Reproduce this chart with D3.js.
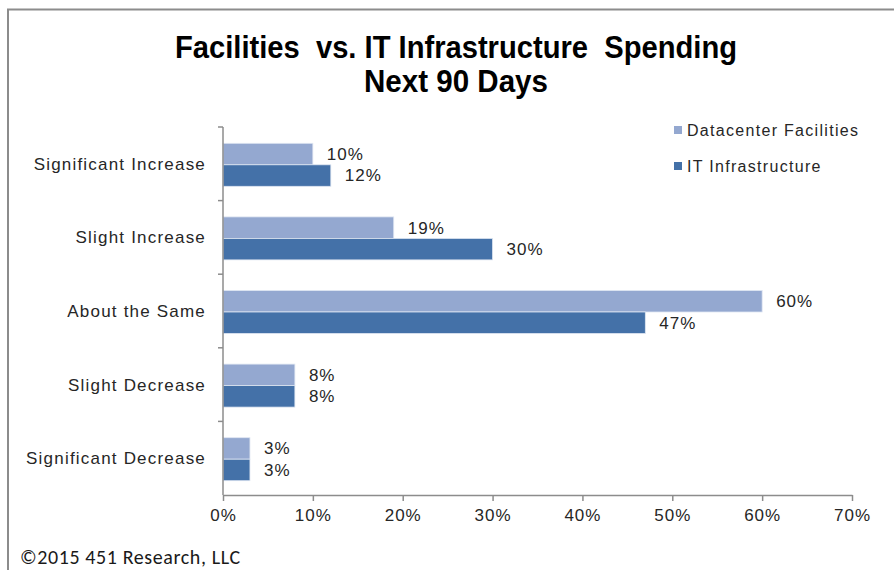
<!DOCTYPE html>
<html>
<head>
<meta charset="utf-8">
<script src="https://cdn.jsdelivr.net/npm/d3@7"></script>
<style>
    body { margin: 0; background: #fff; }
    text { font-family: "Liberation Sans", Arial, sans-serif; fill: #262626; }
    .title { font-weight: bold; font-size: 31px; fill: #000; white-space: pre; }
    .cat { font-size: 17px; letter-spacing: 1.2px; }
    .val { font-size: 17px; letter-spacing: 1px; }
    .axis text { font-size: 17px; letter-spacing: 1px; fill: #262626; }
    .axis path, .axis line { stroke: #8c8c8c; stroke-width: 1.5; }
    .legend text { font-size: 16px; letter-spacing: 1.3px; }
    .copy { font-family: Carlito, "Noto Sans", sans-serif; font-size: 20px; letter-spacing: 0.6px; fill: #1a1a1a; }
</style>
</head>
<body>
<svg width="894" height="570"></svg>
<script>
// Chart data
var categories = ['Significant Increase', 'Slight Increase', 'About the Same', 'Slight Decrease', 'Significant Decrease'];
var seriesNames = ['Datacenter Facilities', 'IT Infrastructure'];
var facilities = [10, 19, 60, 8, 3];
var infrastructure = [12, 30, 47, 8, 3];
var xTicks = [0, 10, 20, 30, 40, 50, 60, 70];
var colors = ['#94a8d0', '#4471a8'];

var svg = d3.select('svg');

var padding = {t: 127, r: 42, b: 75, l: 223};
var svgWidth = +svg.attr('width');
var svgHeight = +svg.attr('height');
var chartWidth = svgWidth - padding.l - padding.r;
var chartHeight = svgHeight - padding.t - padding.b;

// frame: top and left edge only
svg.append('path')
    .attr('d', 'M8,570 V9.5 H894')
    .attr('fill', 'none')
    .attr('stroke', '#8c8c8c')
    .attr('stroke-width', 2);

// title is a condensed face in the original, so squeeze it to the measured width
svg.append('text')
    .attr('class', 'title')
    .attr('text-anchor', 'middle')
    .attr('x', 456).attr('y', 58)
    .attr('textLength', 562)
    .attr('lengthAdjust', 'spacingAndGlyphs')
    .text('Facilities  vs. IT Infrastructure  Spending');
svg.append('text')
    .attr('class', 'title')
    .attr('text-anchor', 'middle')
    .attr('x', 456).attr('y', 92)
    .attr('textLength', 184)
    .attr('lengthAdjust', 'spacingAndGlyphs')
    .text('Next 90 Days');

var xScale = d3.scaleLinear()
    .domain([0, 70])
    .range([0, chartWidth]);

var yScale = d3.scaleBand()
    .domain(categories)
    .range([0, chartHeight]);

var barH = 21.5;

var chartG = svg.append('g')
    .attr('transform', 'translate(' + [padding.l, padding.t] + ')');

// rows of data: one per category
var rows = categories.map(function(c, i) {
    return {cat: c, values: [facilities[i], infrastructure[i]]};
});

var groups = chartG.selectAll('.row')
    .data(rows)
    .enter()
    .append('g')
    .attr('class', 'row')
    .attr('transform', function(d) {
        return 'translate(' + [0, yScale(d.cat) + yScale.bandwidth() / 2 - barH + 1] + ')';
    });

groups.selectAll('rect')
    .data(function(d) { return d.values; })
    .enter()
    .append('rect')
    .attr('x', 0)
    .attr('y', function(d, i) { return i * barH; })
    .attr('width', function(d) { return xScale(d); })
    .attr('height', barH)
    .attr('fill', function(d, i) { return colors[i]; })
    .attr('stroke', '#dfe6f2')
    .attr('stroke-width', 0.8);

groups.selectAll('text.val')
    .data(function(d) { return d.values; })
    .enter()
    .append('text')
    .attr('class', 'val')
    .attr('x', function(d) { return xScale(d) + 14; })
    .attr('y', function(d, i) { return i * barH + barH / 2; })
    .attr('dy', '0.35em')
    .text(function(d) { return d + '%'; });

// category labels
chartG.selectAll('text.cat')
    .data(categories)
    .enter()
    .append('text')
    .attr('class', 'cat')
    .attr('text-anchor', 'end')
    .attr('x', -17)
    .attr('y', function(d) { return yScale(d) + yScale.bandwidth() / 2; })
    .attr('dy', '0.35em')
    .text(function(d) { return d; });

// y axis line with ticks between categories
var yAxisG = chartG.append('g').attr('class', 'axis');
yAxisG.append('line')
    .attr('x1', 0).attr('x2', 0)
    .attr('y1', 0).attr('y2', chartHeight);
yAxisG.selectAll('line.tick')
    .data(categories)
    .enter()
    .append('line')
    .attr('x1', -5).attr('x2', 0)
    .attr('y1', function(d) { return yScale(d); })
    .attr('y2', function(d) { return yScale(d); });

// x axis
chartG.append('g')
    .attr('class', 'x axis')
    .attr('transform', 'translate(' + [0, chartHeight] + ')')
    .call(d3.axisBottom(xScale)
        .tickValues(xTicks)
        .tickSize(6)
        .tickSizeOuter(0)
        .tickPadding(8)
        .tickFormat(function(d) { return d + '%'; }));

// legend
var legend = svg.append('g')
    .attr('class', 'legend')
    .attr('transform', 'translate(674, 130)');
var legendItems = legend.selectAll('g')
    .data(seriesNames)
    .enter()
    .append('g')
    .attr('transform', function(d, i) { return 'translate(' + [0, i * 36] + ')'; });
legendItems.append('rect')
    .attr('x', 0).attr('y', -4)
    .attr('width', 8).attr('height', 8)
    .attr('fill', function(d, i) { return colors[i]; });
legendItems.append('text')
    .attr('x', 13)
    .attr('dy', '0.35em')
    .text(function(d) { return d; });

svg.append('text')
    .attr('class', 'copy')
    .attr('x', 20).attr('y', 564)
    .text('\u00A92015 451 Research, LLC');
</script>
</body>
</html>
